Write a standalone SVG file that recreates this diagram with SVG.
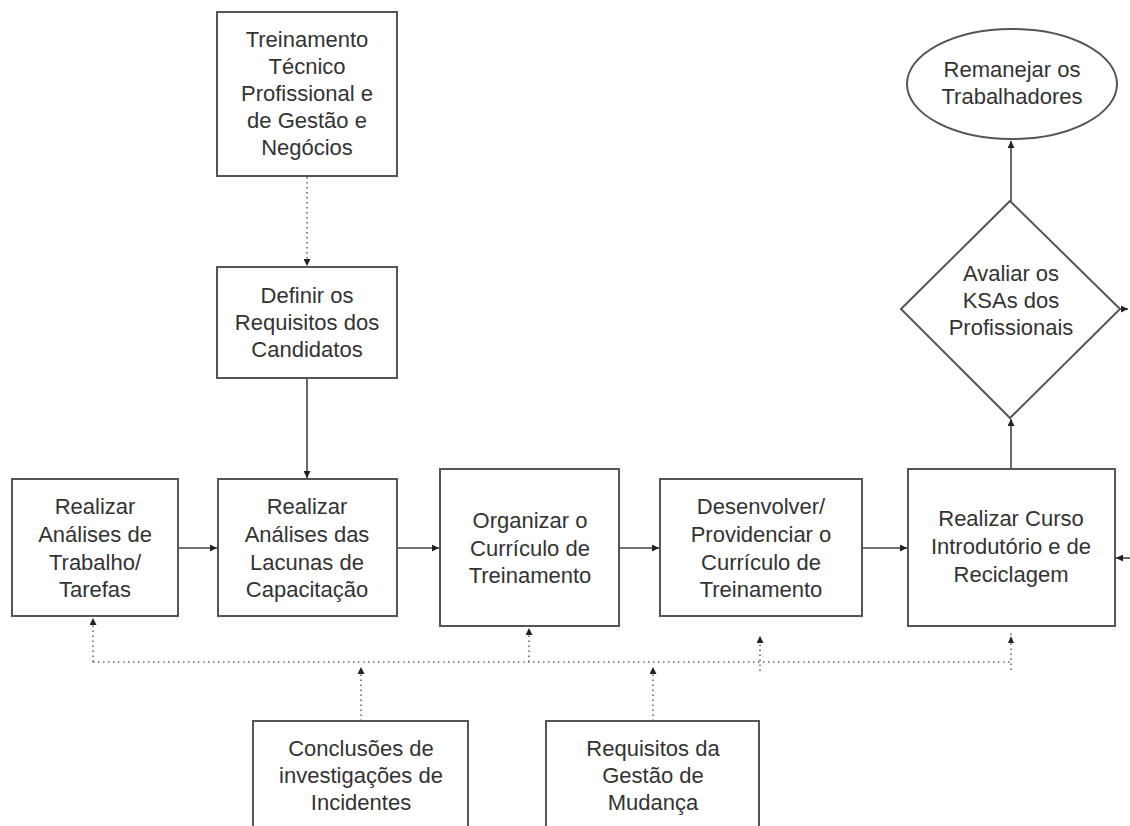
<svg xmlns="http://www.w3.org/2000/svg" width="1130" height="826" viewBox="0 0 1130 826">
<defs>
<style>
.box{fill:#fff;stroke:#555;stroke-width:2}
.t{font-family:"Liberation Sans",Arial,sans-serif;font-size:22px;fill:#333;text-anchor:middle}
.c{fill:none;stroke:#444;stroke-width:1.6}
.d{fill:none;stroke:#666;stroke-width:1.6;stroke-dasharray:1.5 3.5}
</style>
<marker id="ah" viewBox="0 0 10 10" refX="10" refY="5" markerWidth="7" markerHeight="7" markerUnits="userSpaceOnUse" orient="auto">
<path d="M0,0 L10,5 L0,10 Z" fill="#222"/>
</marker>
</defs>
<rect width="1130" height="826" fill="#fff"/>

<g id="connectors">
<line class="d" x1="307" y1="177" x2="307" y2="266" marker-end="url(#ah)"/>
<line class="c" x1="307" y1="378" x2="307" y2="478" marker-end="url(#ah)"/>
<line class="c" x1="178" y1="548" x2="217" y2="548" marker-end="url(#ah)"/>
<line class="c" x1="397" y1="548" x2="439" y2="548" marker-end="url(#ah)"/>
<line class="c" x1="619" y1="548" x2="659" y2="548" marker-end="url(#ah)"/>
<line class="c" x1="862" y1="548" x2="907" y2="548" marker-end="url(#ah)"/>
<line class="c" x1="1011" y1="469" x2="1011" y2="419" marker-end="url(#ah)"/>
<line class="c" x1="1011" y1="201" x2="1011" y2="141" marker-end="url(#ah)"/>
<line class="c" x1="1120" y1="309" x2="1128" y2="309" marker-end="url(#ah)"/>
<line class="c" x1="1132" y1="558" x2="1116" y2="558" marker-end="url(#ah)"/>
<line class="d" x1="93" y1="662" x2="1011" y2="662"/>
<line class="d" x1="93" y1="662" x2="93" y2="618" marker-end="url(#ah)"/>
<line class="d" x1="529" y1="662" x2="529" y2="628" marker-end="url(#ah)"/>
<line class="d" x1="760" y1="671" x2="760" y2="636" marker-end="url(#ah)"/>
<line class="d" x1="1011" y1="670" x2="1011" y2="630"/>
<path d="M1008,643 L1011,636 L1014,643 Z" fill="#222"/>
<line class="d" x1="361" y1="721" x2="361" y2="667" marker-end="url(#ah)"/>
<line class="d" x1="653" y1="721" x2="653" y2="667" marker-end="url(#ah)"/>
</g>

<g id="n-treinamento">
<rect class="box" x="217" y="12" width="180" height="164"/>
<text class="t" x="307" y="47">Treinamento</text>
<text class="t" x="307" y="74">Técnico</text>
<text class="t" x="307" y="101">Profissional e</text>
<text class="t" x="307" y="128">de Gestão e</text>
<text class="t" x="307" y="155">Negócios</text>
</g>

<g id="n-definir">
<rect class="box" x="217" y="267" width="180" height="111"/>
<text class="t" x="307" y="303">Definir os</text>
<text class="t" x="307" y="330">Requisitos dos</text>
<text class="t" x="307" y="357">Candidatos</text>
</g>

<g id="n-trabalho">
<rect class="box" x="12" y="479" width="166" height="137"/>
<text class="t" x="95" y="514">Realizar</text>
<text class="t" x="95" y="542">Análises de</text>
<text class="t" x="95" y="570">Trabalho/</text>
<text class="t" x="95" y="597">Tarefas</text>
</g>

<g id="n-lacunas">
<rect class="box" x="218" y="479" width="179" height="137"/>
<text class="t" x="307" y="514">Realizar</text>
<text class="t" x="307" y="542">Análises das</text>
<text class="t" x="307" y="570">Lacunas de</text>
<text class="t" x="307" y="597">Capacitação</text>
</g>

<g id="n-organizar">
<rect class="box" x="440" y="469" width="179" height="157"/>
<text class="t" x="530" y="528">Organizar o</text>
<text class="t" x="530" y="556">Currículo de</text>
<text class="t" x="530" y="583">Treinamento</text>
</g>

<g id="n-desenvolver">
<rect class="box" x="660" y="479" width="202" height="137"/>
<text class="t" x="761" y="514">Desenvolver/</text>
<text class="t" x="761" y="542">Providenciar o</text>
<text class="t" x="761" y="570">Currículo de</text>
<text class="t" x="761" y="597">Treinamento</text>
</g>

<g id="n-curso">
<rect class="box" x="908" y="469" width="207" height="157"/>
<text class="t" x="1011" y="526">Realizar Curso</text>
<text class="t" x="1011" y="554">Introdutório e de</text>
<text class="t" x="1011" y="582">Reciclagem</text>
</g>

<g id="n-avaliar">
<path class="box" d="M1010,201 L1120,309 L1010,418 L901,309 Z"/>
<text class="t" x="1011" y="281">Avaliar os</text>
<text class="t" x="1011" y="308">KSAs dos</text>
<text class="t" x="1011" y="335">Profissionais</text>
</g>

<g id="n-remanejar">
<ellipse class="box" cx="1012" cy="84" rx="105" ry="55"/>
<text class="t" x="1012" y="77">Remanejar os</text>
<text class="t" x="1012" y="104">Trabalhadores</text>
</g>

<g id="n-conclusoes">
<rect class="box" x="253" y="721" width="215" height="120"/>
<text class="t" x="361" y="756">Conclusões de</text>
<text class="t" x="361" y="783">investigações de</text>
<text class="t" x="361" y="810">Incidentes</text>
</g>

<g id="n-requisitos">
<rect class="box" x="546" y="721" width="213" height="120"/>
<text class="t" x="653" y="756">Requisitos da</text>
<text class="t" x="653" y="783">Gestão de</text>
<text class="t" x="653" y="810">Mudança</text>
</g>
</svg>
